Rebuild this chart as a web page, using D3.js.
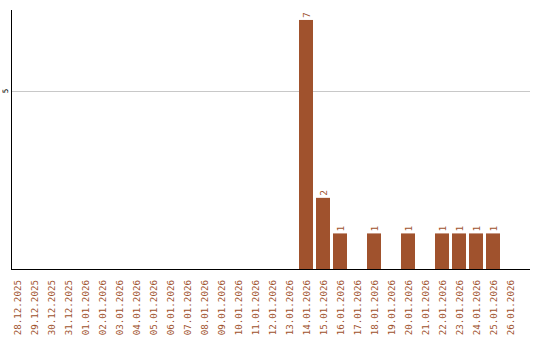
<!DOCTYPE html>
<html><head><meta charset="utf-8">
<script src="https://cdn.jsdelivr.net/npm/d3@7"></script>
<style>body{margin:0;background:#fff}svg{display:block}</style>
</head><body>
<svg id="c" width="540" height="340"></svg>
<script>
const categories = ["28.12.2025","29.12.2025","30.12.2025","31.12.2025","01.01.2026","02.01.2026","03.01.2026","04.01.2026","05.01.2026","06.01.2026","07.01.2026","08.01.2026","09.01.2026","10.01.2026","11.01.2026","12.01.2026","13.01.2026","14.01.2026","15.01.2026","16.01.2026","17.01.2026","18.01.2026","19.01.2026","20.01.2026","21.01.2026","22.01.2026","23.01.2026","24.01.2026","25.01.2026","26.01.2026"];
const values = [0,0,0,0,0,0,0,0,0,0,0,0,0,0,0,0,0,7,2,1,0,1,0,1,0,1,1,1,1,0];
const yTicks = [5];

const svg = d3.select("#c");
const color = "#a0522d";
const font = "DejaVu Sans Mono, monospace";
const x = d3.scaleBand().domain(categories).range([10, 517]).paddingInner(3/17).paddingOuter(0);
const y = d3.scaleLinear().domain([0, 7.28]).range([269, 10]);

// gridlines
svg.selectAll(".grid").data(yTicks).enter().append("line")
  .attr("x1", 11).attr("x2", 530).attr("y1", d => Math.round(y(d)) + 0.5).attr("y2", d => Math.round(y(d)) + 0.5)
  .attr("stroke", "#c8c8c8").attr("stroke-width", 1);

// bars
svg.selectAll(".bar").data(values.map((v, i) => ({c: categories[i], v}))).enter()
  .filter(d => d.v > 0)
  .append("rect")
  .attr("x", d => x(d.c)).attr("width", x.bandwidth())
  .attr("y", d => y(d.v)).attr("height", d => y(0) - y(d.v))
  .attr("fill", color);

// value labels
svg.selectAll(".vl").data(values.map((v, i) => ({c: categories[i], v}))).enter()
  .filter(d => d.v > 0)
  .append("text")
  .attr("transform", d => `translate(${x(d.c) + x.bandwidth()/2 + 3.5},${y(d.v) - 2}) rotate(-90)`)
  .attr("font-family", font).attr("font-size", 9.5)
  .attr("fill", color).attr("text-anchor", "start")
  .text(d => d.v);

// axes lines
svg.append("line").attr("x1", 11.5).attr("x2", 11.5).attr("y1", 10).attr("y2", 270).attr("stroke", "#000");
svg.append("line").attr("x1", 11).attr("x2", 530).attr("y1", 269.5).attr("y2", 269.5).attr("stroke", "#000");

// y tick labels
svg.selectAll(".yl").data(yTicks).enter().append("text")
  .attr("transform", d => `translate(7.5,${y(d)}) rotate(-90)`)
  .attr("font-family", font).attr("font-size", 7.5)
  .attr("text-anchor", "middle").attr("fill", "#000")
  .text(d => d);

// x labels
svg.selectAll(".xl").data(categories).enter().append("text")
  .attr("transform", d => `translate(${x(d) + x.bandwidth()/2 + 3.5},280) rotate(-90)`)
  .attr("font-family", font).attr("font-size", 9.2)
  .attr("text-anchor", "end").attr("fill", color)
  .text(d => d);
</script>
</body></html>
